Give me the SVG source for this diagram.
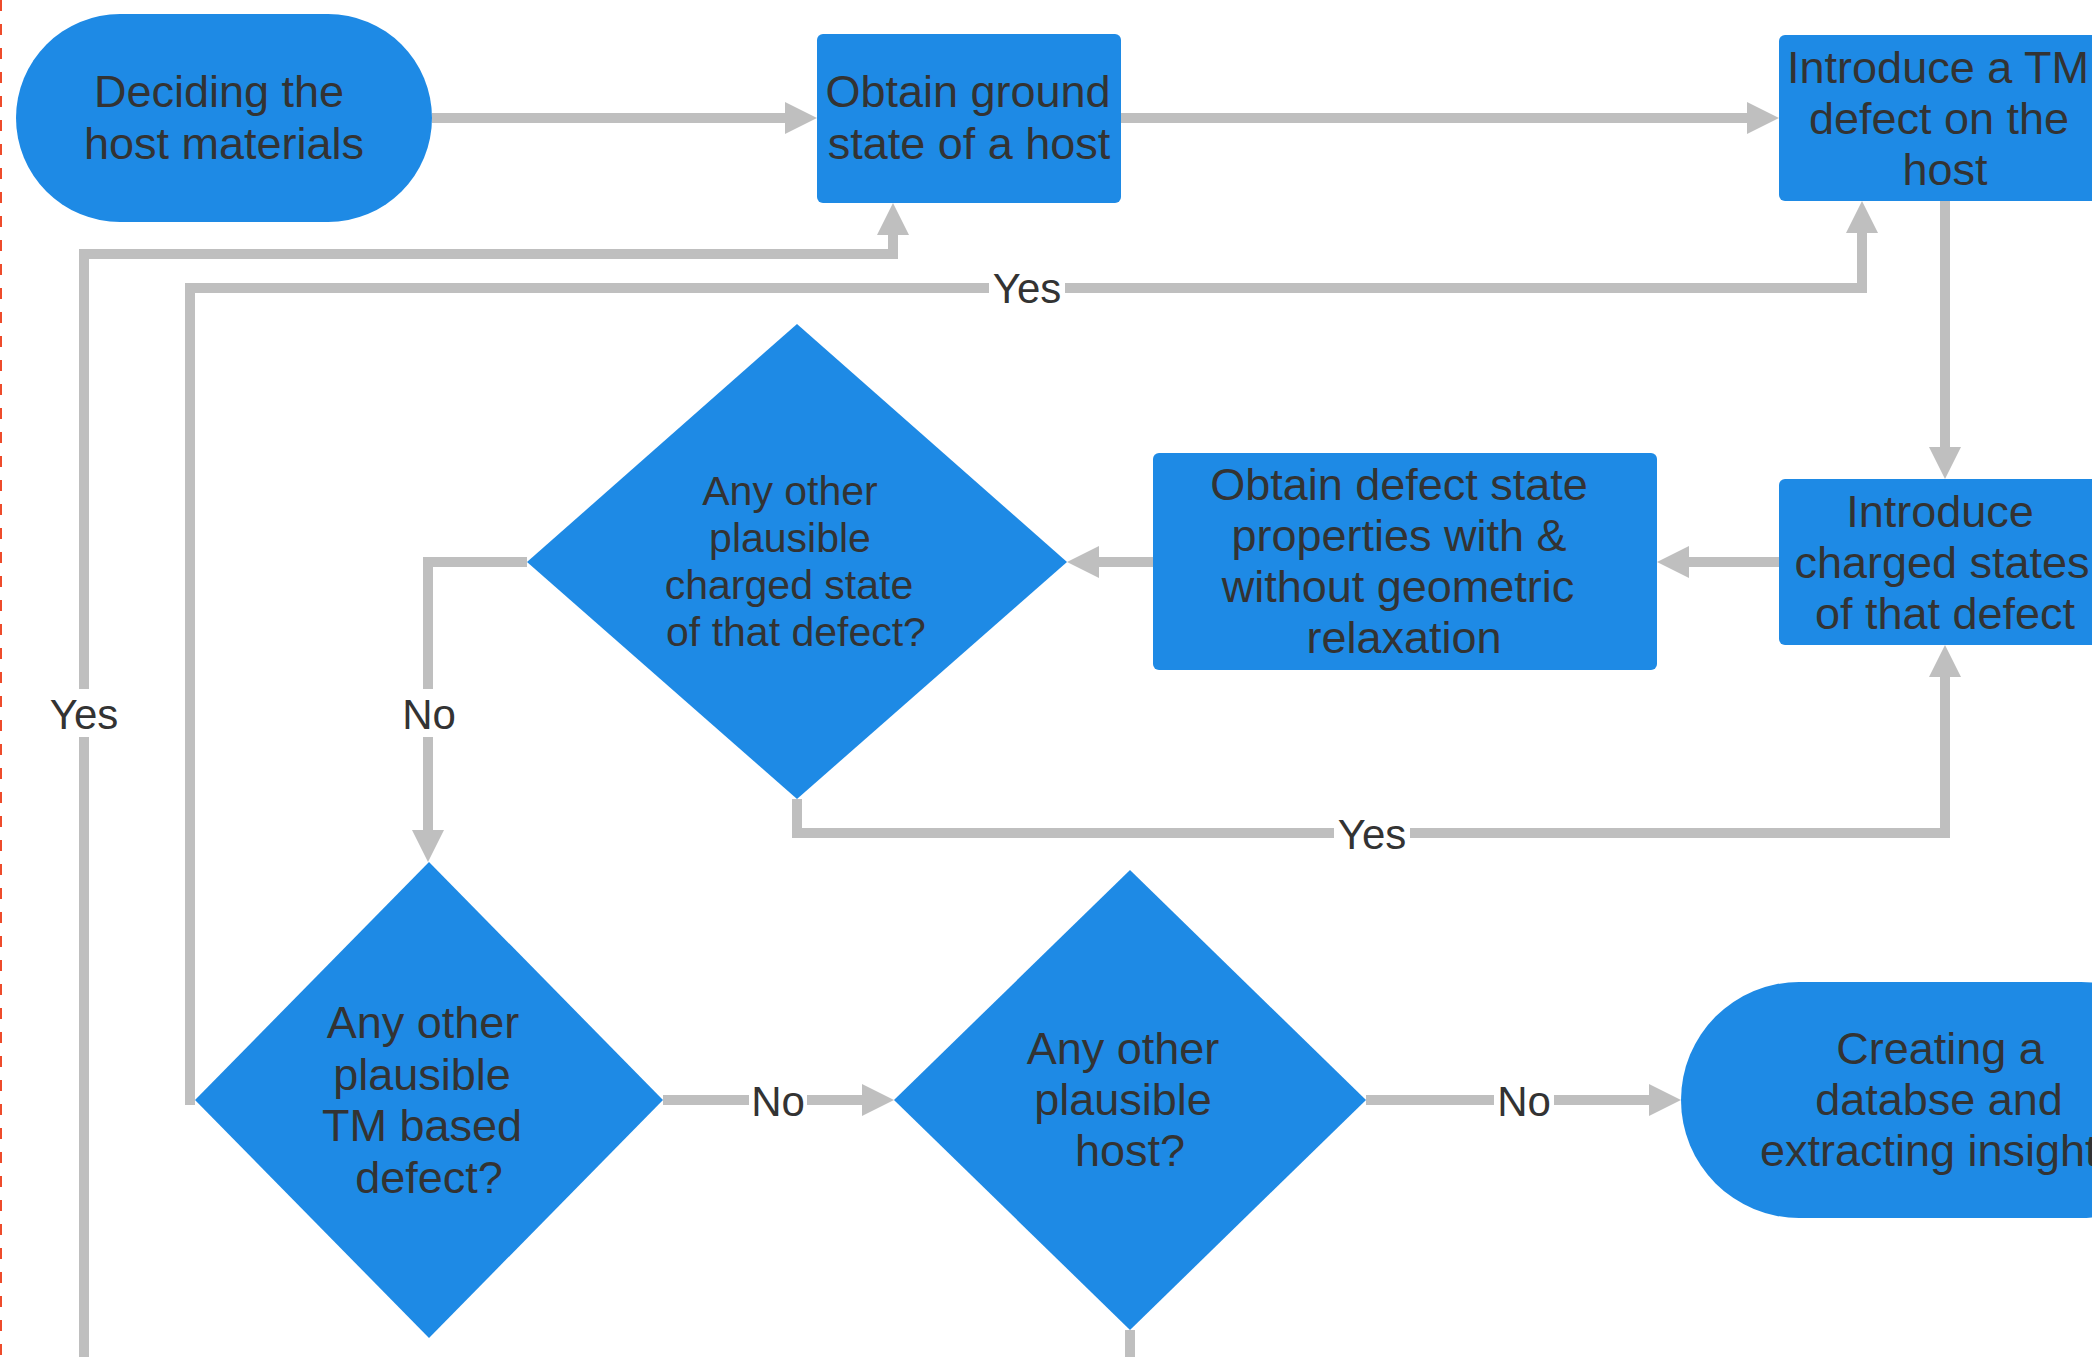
<svg xmlns="http://www.w3.org/2000/svg" width="2092" height="1357" viewBox="0 0 2092 1357">
<defs>
<style>
.n{fill:#1e8ae5;}
.t{font-family:"Liberation Sans",Arial,sans-serif;font-size:45px;fill:#333333;text-anchor:middle;}
.td{font-family:"Liberation Sans",Arial,sans-serif;font-size:41px;fill:#333333;text-anchor:middle;}
.c{fill:none;stroke:#bfbfbf;stroke-width:10;stroke-linejoin:miter;stroke-linecap:butt;marker-end:url(#ah);}
.lb{fill:#ffffff;}
.lt{font-family:"Liberation Sans",Arial,sans-serif;font-size:42px;fill:#333333;text-anchor:middle;}
</style>
<marker id="ah" markerUnits="userSpaceOnUse" viewBox="0 0 32 32" refX="0" refY="16" markerWidth="32" markerHeight="32" orient="auto">
<path d="M0,0 L32,16 L0,32 z" fill="#bfbfbf"/>
</marker>
</defs>
<rect width="2092" height="1357" fill="#ffffff"/>
<line x1="1" y1="0" x2="1" y2="1357" stroke="#ee4b2b" stroke-width="2" stroke-dasharray="11 13"/>

<g id="connectors">
<path class="c" d="M432,118 H785"/>
<path class="c" d="M1121,118 H1747"/>
<path class="c" d="M1945,201 V447"/>
<path class="c" d="M1779,562 H1689"/>
<path class="c" d="M1153,562 H1099"/>
<path class="c" d="M527,562 H428 V830"/>
<path class="c" d="M797,799 V833 H1945 V677"/>
<path class="c" d="M195,1100 H190 V288 H1862 V233"/>
<path class="c" d="M1130,1330 V1400 H84 V254 H893 V235"/>
<path class="c" d="M663,1100 H862"/>
<path class="c" d="M1366,1100 H1649"/>
<g id="labels">
<rect class="lb" x="401" y="689" width="56" height="48"/>
<text class="lt" x="429" y="729">No</text>
<rect class="lb" x="46" y="689" width="76" height="48"/>
<text class="lt" x="84" y="729">Yes</text>
<rect class="lb" x="989" y="264" width="76" height="48"/>
<text class="lt" x="1027" y="303">Yes</text>
<rect class="lb" x="1334" y="809" width="76" height="48"/>
<text class="lt" x="1372" y="849">Yes</text>
<rect class="lb" x="749" y="1076" width="58" height="48"/>
<text class="lt" x="778" y="1116">No</text>
<rect class="lb" x="1494" y="1076" width="60" height="48"/>
<text class="lt" x="1524" y="1116">No</text>
</g>
</g>

<g id="n1">
<rect class="n" x="16" y="14" width="416" height="208" rx="104" ry="104"/>
<text class="t" x="219" y="107">Deciding the</text>
<text class="t" x="224" y="159">host materials</text>
</g>

<g id="n2">
<rect class="n" x="817" y="34" width="304" height="169" rx="6"/>
<text class="t" x="968" y="107">Obtain ground</text>
<text class="t" x="969" y="159">state of a host</text>
</g>

<g id="n3">
<rect class="n" x="1779" y="35" width="330" height="166" rx="6"/>
<text class="t" x="1938" y="83">Introduce a TM</text>
<text class="t" x="1939" y="134">defect on the</text>
<text class="t" x="1945" y="185">host</text>
</g>

<g id="n4">
<rect class="n" x="1779" y="479" width="330" height="166" rx="6"/>
<text class="t" x="1940" y="527">Introduce</text>
<text class="t" x="1942" y="578">charged states</text>
<text class="t" x="1945" y="629">of that defect</text>
</g>

<g id="n5">
<rect class="n" x="1153" y="453" width="504" height="217" rx="6"/>
<text class="t" x="1399" y="500">Obtain defect state</text>
<text class="t" x="1399" y="551">properties with &amp;</text>
<text class="t" x="1398" y="602">without geometric</text>
<text class="t" x="1404" y="653">relaxation</text>
</g>

<g id="n6">
<polygon class="n" points="797,324 1067,562 797,799 527,562"/>
<text class="td" x="790" y="505">Any other</text>
<text class="td" x="790" y="552">plausible</text>
<text class="td" x="789" y="599">charged state</text>
<text class="td" x="796" y="646">of that defect?</text>
</g>

<g id="n7">
<polygon class="n" points="429,862 663,1100 429,1338 195,1100"/>
<text class="t" x="423" y="1038">Any other</text>
<text class="t" x="422" y="1090">plausible</text>
<text class="t" x="422" y="1141">TM based</text>
<text class="t" x="429" y="1193">defect?</text>
</g>

<g id="n8">
<polygon class="n" points="1130,870 1366,1100 1130,1330 894,1100"/>
<text class="t" x="1123" y="1064">Any other</text>
<text class="t" x="1123" y="1115">plausible</text>
<text class="t" x="1130" y="1166">host?</text>
</g>

<g id="n9">
<rect class="n" x="1681" y="982" width="518" height="236" rx="118" ry="118"/>
<text class="t" x="1940" y="1064">Creating a</text>
<text class="t" x="1939" y="1115">databse and</text>
<text class="t" x="1940" y="1166">extracting insights</text>
</g>
</svg>
